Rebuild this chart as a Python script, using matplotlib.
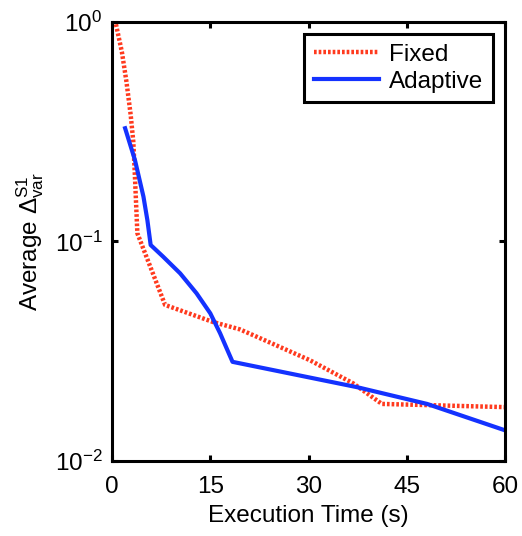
import numpy as np
import matplotlib
matplotlib.use("Agg")
import matplotlib.pyplot as plt
from matplotlib.ticker import LogLocator, NullLocator

plt.rcParams['font.family'] = ['Liberation Sans', 'DejaVu Sans']
plt.rcParams['mathtext.fontset'] = 'custom'
plt.rcParams['mathtext.rm'] = 'Liberation Sans'
plt.rcParams['mathtext.it'] = 'Liberation Sans:italic'
plt.rcParams['mathtext.bf'] = 'Liberation Sans:bold'

# values
fixed_t = [0.6, 1.5, 2.2, 2.85, 3.25, 3.5, 3.87, 8.1, 15.4, 19.5, 21.5, 30.2, 36.8, 41.2, 60]
fixed_v = [0.976, 0.732, 0.535, 0.377, 0.285, 0.197, 0.109, 0.0514, 0.043, 0.0398, 0.0375,
           0.0288, 0.0226, 0.0182, 0.0176]

adapt_t = [2.0, 3.5, 4.8, 5.4, 5.9, 7.8, 10.4, 12.9, 15.0, 16.5, 17.5, 18.4, 37.4, 48.1, 60]
adapt_v = [0.328, 0.235, 0.160, 0.125, 0.0964, 0.0853, 0.0716, 0.0581, 0.0471, 0.0382,
           0.0326, 0.0283, 0.0217, 0.0182, 0.0138]

xticks = [0, 15, 30, 45, 60]

fig = plt.figure(figsize=(5.22, 5.36), dpi=100)
ax = fig.add_axes([0.2146, 0.1399, 0.7528, 0.8191])

ax.plot(fixed_t, fixed_v, color='#ff3a1e', lw=3.2, linestyle=(0, (0.6, 0.45)), label='Fixed')
ax.plot(adapt_t, adapt_v, color='#1432ff', lw=3.0, label='Adaptive')

ax.set_yscale('log')
ax.set_xlim(0, 60)
ax.set_ylim(1e-2, 1)
ax.set_xticks(xticks)
ax.yaxis.set_major_locator(LogLocator(base=10, numticks=5))
ax.yaxis.set_minor_locator(NullLocator())

for s in ax.spines.values():
    s.set_linewidth(2.2)
ax.tick_params(direction='in', length=4, width=2.2, labelsize=17.5, top=True, right=True, pad=7)
ax.tick_params(axis='x', pad=11)

ax.set_xlabel('Execution Time (s)', fontsize=17.5, labelpad=5)
ax.set_ylabel(r'Average $\Delta^{\mathrm{S1}}_{\mathrm{var}}$', fontsize=17.5, labelpad=6)

leg = ax.legend(loc='upper right', fontsize=17.5, fancybox=False, framealpha=1,
                edgecolor='black', borderaxespad=0.5, handlelength=2.7,
                handletextpad=0.4, borderpad=0.4, labelspacing=0.2)
leg.get_frame().set_linewidth(2.2)

fig.savefig('out.png', dpi=100)
